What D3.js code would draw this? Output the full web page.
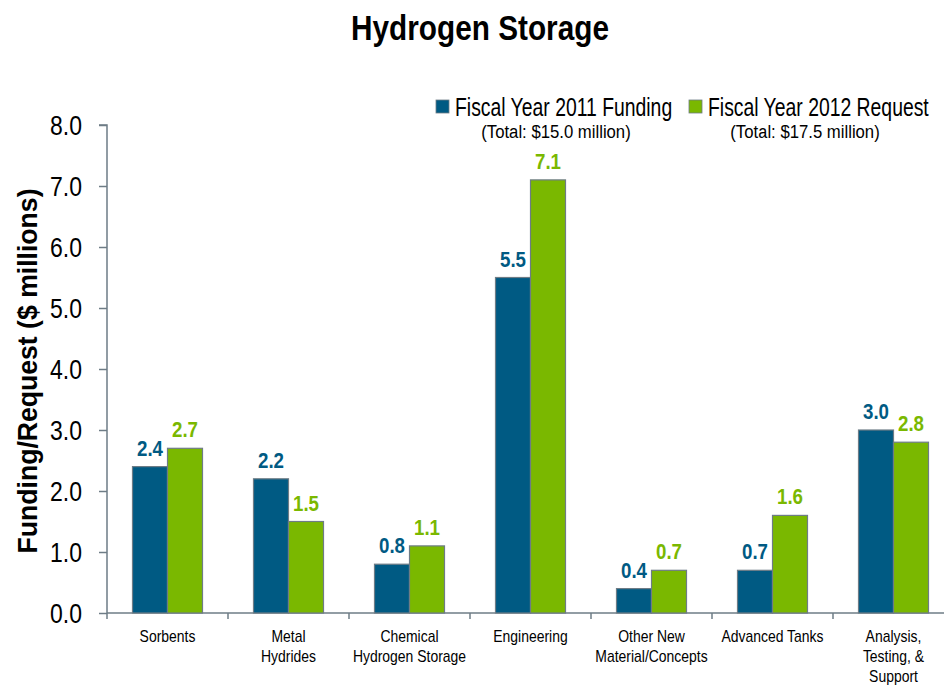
<!DOCTYPE html>
<html>
<head>
<meta charset="utf-8">
<script src="https://cdn.jsdelivr.net/npm/d3@7"></script>
<style>
  body { margin: 0; background: #fff; }
  svg { display: block; font-family: "Liberation Sans", Arial, sans-serif; }
</style>
</head>
<body>
<div class="visHolder"></div>
<script>
var categories = [
    ['Sorbents'],
    ['Metal', 'Hydrides'],
    ['Chemical', 'Hydrogen Storage'],
    ['Engineering'],
    ['Other New', 'Material/Concepts'],
    ['Advanced Tanks'],
    ['Analysis,', 'Testing, &', 'Support']
];
var fy2011 = [2.4, 2.2, 0.8, 5.5, 0.4, 0.7, 3.0];
var fy2012 = [2.7, 1.5, 1.1, 7.1, 0.7, 1.6, 2.8];
var seriesNames = ['Fiscal Year 2011 Funding', 'Fiscal Year 2012 Request'];
var seriesTotals = ['(Total: $15.0 million)', '(Total: $17.5 million)'];
var yTicks = [0, 1, 2, 3, 4, 5, 6, 7, 8];

var width = 944,
    height = 686;

var blue = '#005a83',
    green = '#7ab800',
    axisColor = '#6e7c86';

// no narrow font available, so squeeze the text horizontally
function squeeze(sel, k) {
    sel.each(function () {
        d3.select(this)
            .attr('textLength', this.getComputedTextLength() * k)
            .attr('lengthAdjust', 'spacingAndGlyphs');
    });
}

var svg = d3.select('.visHolder')
    .append('svg')
    .attr('width', width)
    .attr('height', height);

var x0 = d3.scaleBand()
    .domain(d3.range(categories.length))
    .range([107, 954]);

var y = d3.scaleLinear()
    .domain([0, 8])
    .range([613, 125]);

var barW = 35;

// title
svg.append('text')
    .attr('x', 480)
    .attr('y', 40)
    .attr('text-anchor', 'middle')
    .style('font-size', '35px')
    .style('font-weight', 'bold')
    .text('Hydrogen Storage')
    .call(squeeze, 0.85);

// y axis
var yAxis = d3.axisLeft(y)
    .tickValues(yTicks)
    .tickSize(8)
    .tickFormat(d3.format('.1f'));

var gy = svg.append('g')
    .attr('transform', 'translate(107,0)')
    .call(yAxis);
gy.select('.domain').attr('stroke', axisColor).attr('stroke-width', 1.5).attr('d', 'M-8,125H0V613');
gy.selectAll('.tick line').attr('stroke', axisColor).attr('stroke-width', 1.5);
gy.selectAll('.tick text')
    .attr('x', -25)
    .attr('dy', '0.35em')
    .style('font-size', '28px')
    .style('font-family', '"Liberation Sans", Arial, sans-serif')
    .attr('fill', '#000')
    .call(squeeze, 0.82);

svg.append('text')
    .attr('transform', 'translate(37,371) rotate(-90)')
    .attr('text-anchor', 'middle')
    .style('font-size', '28px')
    .style('font-weight', 'bold')
    .text('Funding/Request ($ millions)')
    .call(squeeze, 0.95);

// x axis
svg.append('line')
    .attr('x1', 107).attr('x2', 954)
    .attr('y1', y(0)).attr('y2', y(0))
    .attr('stroke', axisColor).attr('stroke-width', 1.5);

svg.selectAll('.xtick')
    .data(d3.range(categories.length + 1))
    .enter()
    .append('line')
    .attr('class', 'xtick')
    .attr('x1', function (d) { return 107 + d * x0.step(); })
    .attr('x2', function (d) { return 107 + d * x0.step(); })
    .attr('y1', y(0))
    .attr('y2', y(0) + 6)
    .attr('stroke', axisColor)
    .attr('stroke-width', 1.5);

var catLabels = svg.selectAll('.cat')
    .data(categories)
    .enter()
    .append('text')
    .attr('class', 'cat')
    .attr('text-anchor', 'middle')
    .attr('x', function (d, i) { return x0(i) + x0.bandwidth() / 2; })
    .attr('y', 642)
    .style('font-size', '17px');

catLabels.selectAll('tspan')
    .data(function (d) { return d; })
    .enter()
    .append('tspan')
    .attr('x', function () { return d3.select(this.parentNode).attr('x'); })
    .attr('dy', function (d, i) { return i === 0 ? 0 : 20; })
    .text(function (d) { return d; })
    .call(squeeze, 0.82);

// bars
var series = [fy2011, fy2012];
var colors = [blue, green];

series.forEach(function (vals, s) {
    var bx = function (i) { return x0(i) + x0.bandwidth() / 2 - barW + s * barW; };
    svg.selectAll('.bar' + s)
        .data(vals)
        .enter()
        .append('rect')
        .attr('class', 'bar' + s)
        .attr('x', function (d, i) { return bx(i); })
        .attr('y', function (d) { return y(d); })
        .attr('width', barW)
        .attr('height', function (d) { return y(0) - y(d); })
        .attr('fill', colors[s])
        .attr('stroke', axisColor)
        .attr('stroke-width', 1.2);

    svg.selectAll('.val' + s)
        .data(vals)
        .enter()
        .append('text')
        .attr('class', 'val' + s)
        .attr('x', function (d, i) { return bx(i) + barW / 2; })
        .attr('y', function (d) { return y(d) - 11; })
        .attr('text-anchor', 'middle')
        .attr('fill', colors[s])
        .style('font-size', '22px')
        .style('font-weight', 'bold')
        .text(function (d) { return d3.format('.1f')(d); })
        .call(squeeze, 0.85);
});

// legend (scaled with a transform so the box matches what is drawn)
var legendX = [436, 689];
var totalCx = [556, 805];
legendX.forEach(function (lx, s) {
    svg.append('rect')
        .attr('x', lx).attr('y', 100)
        .attr('width', 13).attr('height', 13)
        .attr('fill', colors[s])
        .attr('stroke', axisColor)
        .attr('stroke-width', 0.8);
    svg.append('text')
        .attr('transform', 'translate(' + (lx + 19) + ',116) scale(0.775,1)')
        .style('font-size', '25px')
        .text(seriesNames[s]);
    svg.append('text')
        .attr('transform', 'translate(' + totalCx[s] + ',138) scale(0.88,1)')
        .attr('text-anchor', 'middle')
        .style('font-size', '19px')
        .text(seriesTotals[s]);
});
</script>
</body>
</html>
